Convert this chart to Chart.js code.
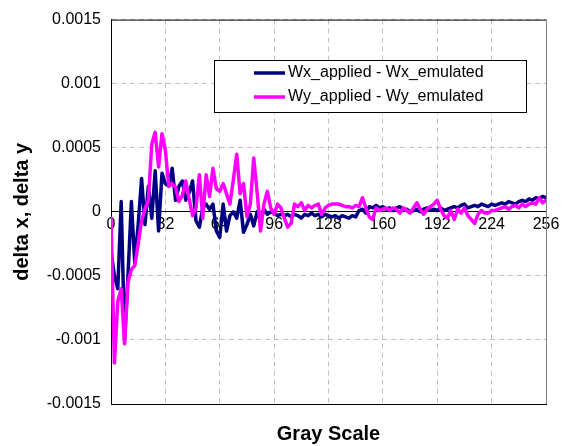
<!DOCTYPE html>
<html>
<head>
<meta charset="utf-8">
<script src="https://cdn.jsdelivr.net/npm/chart.js@4.4.1/dist/chart.umd.min.js"></script>
<style>
  body { margin: 0; background: #fff; }
</style>
</head>
<body>
<canvas id="deltaChart" width="565" height="446"></canvas>
<script>
// gray levels sampled every 2 steps
const grayLevels = [
  0, 2, 4, 6, 8, 10, 12, 14, 16, 18, 20, 22, 24, 26, 28, 30,
  32, 34, 36, 38, 40, 42, 44, 46, 48, 50, 52, 54, 56, 58, 60, 62,
  64, 66, 68, 70, 72, 74, 76, 78, 80, 82, 84, 86, 88, 90, 92, 94,
  96, 98, 100, 102, 104, 106, 108, 110, 112, 114, 116, 118, 120, 122, 124, 126,
  128, 130, 132, 134, 136, 138, 140, 142, 144, 146, 148, 150, 152, 154, 156, 158,
  160, 162, 164, 166, 168, 170, 172, 174, 176, 178, 180, 182, 184, 186, 188, 190,
  192, 194, 196, 198, 200, 202, 204, 206, 208, 210, 212, 214, 216, 218, 220, 222,
  224, 226, 228, 230, 232, 234, 236, 238, 240, 242, 244, 246, 248, 250, 252, 254,
  256
];

const wxDelta = [
  -0.0003, -0.0005, -0.0006, 0.00008, -0.001, -0.0005, 0.00008, -0.0004, -0.0001, 0.00026, -0.0001, 0.0002, -0.00005, 0.00032, -0.00015, 0.0003,
  0.00022, 0.0002, 0.00034, 0.00009, 0.0002, 0.00024, 0.00009, 0.00015, 0.00024, -0.00007, -0.00012, 0.00003, 0.00006, 0.00002, 0.00006, -0.00015,
  -0.0002, 0.00006, -0.00015, -0.00003, 0, -0.00005, 0.00009, -0.00016, -0.0001, -0.00002, -0.00011, 0, -0.00007, 0.00002, -0.00002, 0,
  -0.00001, -0.00003, -0.00002, -0.00003, -0.00002, -0.00004, -0.00002, -0.00003, -0.00005, -0.00002, -0.00003, -0.00001, -0.00003, -0.00002, -0.00004, -0.00002,
  -0.00003, -0.00004, -0.00003, -0.00005, -0.00003, -0.00004, -0.00005, -0.00003, -0.00004, 0.00001, 0.00002, -0.00001, 0.00004, 0.00003, 0.00005, 0.00003,
  0.00004, 0.00002, 0.00003, 0.00001, 0.00003, 0.00004, 0.00001, 0.00002, 0, 0.00001, 0.00002, 0, 0.00002, 0.00003, 0.00001, 0.00002,
  0.00001, 0.00003, 0.00001, 0.00002, 0.00003, 0.00004, 0.00003, 0.00005, 0.00006, 0.00003, 0.00004, 0.00005, 0.00004, 0.00006, 0.00005, 0.00004,
  0.00006, 0.00005, 0.00006, 0.00007, 0.00006, 0.00008, 0.00007, 0.00006, 0.00008, 0.00009, 0.00008, 0.0001, 0.00009, 0.00011, 0.0001, 0.00012,
  0.00011
];

const wyDelta = [
  -0.00005, -0.00118, -0.0007, -0.0006, -0.00103, -0.00055, -0.00045, -0.00042, -0.00025, -0.00007, 0.00002, 0.00009, 0.00053, 0.00062, 0.00035, 0.00061,
  0.00048, 0.0002, 0.00022, 0.00019, 0.00008, 0.00013, 0.00024, 0.0001, -0.00003, 0.00003, 0.00029, -0.00005, 0.00029, 0.00012, 0.00034, 0.00018,
  0.00016, 0.00022, 0.00014, 0.00006, 0.00025, 0.00045, 0.00014, 0.00022, -0.00004, 0.00006, 0.00042, 0.00015, -0.00015, 0.00006, 0.00016, 0.00003,
  -0.00002, 0.00006, 0.00003, -0.00005, -0.00012, -0.00009, 0.00006, 0.00004, 0.00007, 0.00001, 0.00005, 0.00003, 0.00005, 0.00006, -0.00002, 0.00003,
  0.00005, 0.00006, 0.00006, 0.00006, 0.00005, 0.00004, 0.00004, 0.00003, 0.00005, 0.00004, 0.00011, 0.00003, -0.00004, -0.00006, 0.00003, 0.00001,
  0.00002, 0.00003, 0.00001, 0.00003, 0.00002, -0.00001, 0.00003, 0.00001, -0.00001, 0.00003, 0.00007, 0.00002, -0.00002, 0.00002, 0.00004, 0.00006,
  0.00009, 0.00002, -0.00003, -0.00005, 0.00001, -0.00006, 0.00002, -0.00001, 0.00003, -0.00003, -0.00006, -0.00009, -0.00002, 0.00001, -0.00001, -0.00001,
  0.00001, 0.00001, 0.00002, 0.00003, 0.00004, 0.00002, 0.00004, 0.00005, 0.00003, 0.00006, 0.00004, 0.00006, 0.00007, 0.00006, 0.00011, 0.00007,
  0.00009
];

const seriesNames = ["Wx_applied - Wx_emulated", "Wy_applied - Wy_emulated"];
const xTicks = [0, 32, 64, 96, 128, 160, 192, 224, 256];
const yTicks = [-0.0015, -0.001, -0.0005, 0, 0.0005, 0.001, 0.0015];

Chart.defaults.font.family = "'Liberation Sans', Arial, sans-serif";
Chart.defaults.font.size = 16;
Chart.defaults.color = "#000";

function toPoints(values) {
  return grayLevels.map((g, i) => ({ x: g, y: values[i] }));
}

// top and right edges of the plot box
const plotFrame = {
  id: "plotFrame",
  afterDatasetsDraw(chart) {
    const { ctx, chartArea: a } = chart;
    ctx.save();
    ctx.lineWidth = 1;
    ctx.strokeStyle = "#000";
    ctx.beginPath();
    ctx.moveTo(a.left, a.top + 0.5);
    ctx.lineTo(a.right, a.top + 0.5);
    ctx.stroke();
    ctx.strokeStyle = "#808080";
    ctx.beginPath();
    ctx.moveTo(a.right + 0.5, a.top);
    ctx.lineTo(a.right + 0.5, a.bottom);
    ctx.stroke();
    ctx.restore();
  }
};

// boxed legend inside the plot
const boxLegend = {
  id: "boxLegend",
  afterDraw(chart) {
    const ctx = chart.ctx;
    ctx.save();
    ctx.fillStyle = "#fff";
    ctx.fillRect(214.5, 60.5, 312, 52);
    ctx.strokeStyle = "#000";
    ctx.lineWidth = 1;
    ctx.strokeRect(214.5, 60.5, 312, 52);
    chart.data.datasets.forEach((ds, i) => {
      const y = 73 + i * 24;
      ctx.strokeStyle = ds.borderColor;
      ctx.lineWidth = 3.5;
      ctx.beginPath();
      ctx.moveTo(254, y);
      ctx.lineTo(285, y);
      ctx.stroke();
      ctx.fillStyle = "#000";
      ctx.font = "16px 'Liberation Sans', Arial, sans-serif";
      ctx.textBaseline = "middle";
      ctx.fillText(ds.label, 288, y);
    });
    ctx.restore();
  }
};

new Chart(document.getElementById("deltaChart").getContext("2d"), {
  type: "line",
  data: {
    datasets: [
      {
        label: seriesNames[0],
        data: toPoints(wxDelta),
        borderColor: "#000080",
        borderWidth: 3.5,
        borderJoinStyle: "round",
        borderCapStyle: "round",
        pointRadius: 0,
        xAxisID: "x",
        order: 1
      },
      {
        label: seriesNames[1],
        data: toPoints(wyDelta),
        borderColor: "#ff00ff",
        borderWidth: 3.5,
        borderJoinStyle: "round",
        borderCapStyle: "round",
        pointRadius: 0,
        xAxisID: "x",
        order: 0
      }
    ]
  },
  options: {
    responsive: false,
    animation: false,
    devicePixelRatio: 1,
    layout: { padding: { top: 19, right: 19, bottom: 0, left: 0 } },
    plugins: { legend: { display: false }, tooltip: { enabled: false } },
    scales: {
      x: {
        type: "linear",
        position: "bottom",
        min: 0,
        max: 256,
        afterBuildTicks: s => { s.ticks = xTicks.map(v => ({ value: v })); },
        afterFit: s => { s.height = 42; },
        ticks: { display: false },
        grid: { color: "#c0c0c0", drawTicks: false },
        border: { display: true, color: "#000", dash: [5, 4] },
        title: {
          display: true,
          text: "Gray Scale",
          font: { size: 20, weight: "bold" },
          padding: { top: 0, bottom: 0 }
        }
      },
      xLabels: {
        type: "linear",
        axis: "x",
        position: { y: 0 },
        min: 0,
        max: 256,
        afterBuildTicks: s => { s.ticks = xTicks.map(v => ({ value: v })); },
        ticks: { padding: 3, maxRotation: 0, autoSkip: false },
        grid: { display: false, drawTicks: false },
        border: { display: true, color: "#000", width: 1 }
      },
      y: {
        min: -0.0015,
        max: 0.0015,
        afterBuildTicks: s => { s.ticks = yTicks.map(v => ({ value: v })); },
        afterFit: s => { s.width = 111; },
        ticks: { padding: 10, callback: v => String(v) },
        grid: { color: "#c0c0c0", drawTicks: false },
        border: { display: true, color: "#000", dash: [5, 4] },
        title: {
          display: true,
          text: "delta x, delta y",
          font: { size: 20, weight: "bold" },
          padding: { top: 10, bottom: 0 }
        }
      }
    }
  },
  plugins: [plotFrame, boxLegend]
});
</script>
</body>
</html>
